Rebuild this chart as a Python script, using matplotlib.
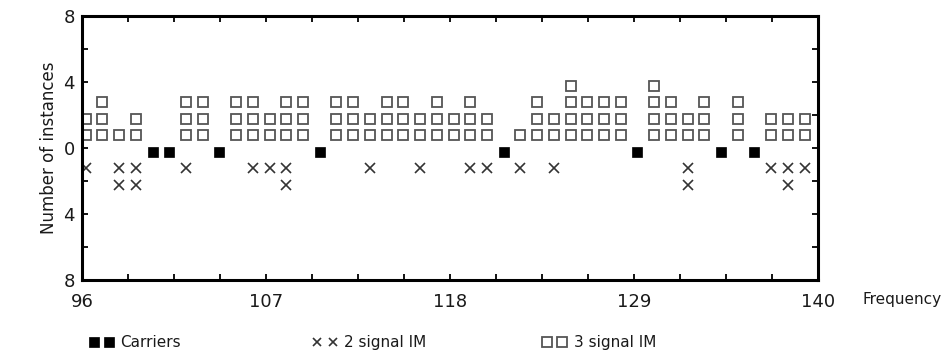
import numpy as np
import matplotlib
matplotlib.use("Agg")
import matplotlib.pyplot as plt

DARK = '#1a1a1a'
SQ_EDGE = '#555555'
X_COLOR = '#333333'

plt.rcParams['font.family'] = ['DejaVu Sans']
plt.rcParams['text.color'] = DARK

# carrier frequencies
carrier_freqs = [100, 101, 104, 110, 121, 129, 134, 136]

# 2 signal IM products: frequency and number of instances
im2_freqs = [96, 98, 99, 102, 106, 107, 108, 113, 116, 119, 120, 122, 124,
             132, 137, 138, 139]
im2_counts = [1, 2, 2, 1, 1, 1, 2, 1, 1, 1, 1, 1, 1, 2, 1, 2, 1]

# 3 signal IM products: frequency and number of instances
im3_freqs = [96, 97, 98, 99, 102, 103, 105, 106, 107, 108, 109, 111, 112,
             113, 114, 115, 116, 117, 118, 119, 120, 122, 123, 124, 125,
             126, 127, 128, 130, 131, 132, 133, 135, 137, 138, 139]
im3_counts = [2, 3, 1, 2, 3, 3, 3, 3, 2, 3, 3, 3, 3,
              2, 3, 3, 2, 3, 2, 3, 2, 1, 3, 2, 4,
              3, 3, 3, 4, 3, 2, 3, 3, 2, 2, 2]

x_major = [96, 107, 118, 129, 140]
y_ticks = [8, 4, 0, -4, -8]
y_ticklabels = ['8', '4', '0', '4', '8']

# the original figure draws marks slightly right of / below the grid
X_SHIFT = 0.22
Y_SHIFT = -0.22

sq_style = dict(marker='s', ms=7.3, mfc='white', mec=SQ_EDGE, mew=1.3, ls='none')
car_style = dict(marker='s', ms=7.5, mfc='black', mec='black', mew=0.5, ls='none')
x_style = dict(marker='x', ms=6.5, mec=X_COLOR, mew=1.2, ls='none')

fig = plt.figure(figsize=(9.48, 3.59), dpi=100)
ax = fig.add_axes([0.0865, 0.22, 0.776, 0.735])

# stack the instances: one mark per instance
sx, sy = [], []
for f, c in zip(im3_freqs, im3_counts):
    for k in range(1, c + 1):
        sx.append(f + X_SHIFT)
        sy.append(k + Y_SHIFT)
xx, xy = [], []
for f, c in zip(im2_freqs, im2_counts):
    for k in range(1, c + 1):
        xx.append(f + X_SHIFT)
        xy.append(-k + Y_SHIFT)

ax.plot(sx, sy, **sq_style)
ax.plot(xx, xy, **x_style)
ax.plot(np.array(carrier_freqs) + X_SHIFT,
        np.zeros(len(carrier_freqs)) + Y_SHIFT, **car_style)

ax.set_xlim(96, 140)
ax.set_ylim(-8, 8)
ax.set_xticks(x_major)
ax.set_xticklabels([str(v) for v in x_major])
ax.set_xticks(np.arange(96, 140.01, 2.75), minor=True)
ax.set_yticks(y_ticks)
ax.set_yticklabels(y_ticklabels)
ax.set_yticks(np.arange(-8, 8.01, 2), minor=True)

for s in ax.spines.values():
    s.set_linewidth(2.2)
    s.set_color('black')
ax.tick_params(which='both', direction='in', top=True, right=True,
               length=4, width=1.3, color='black')
ax.tick_params(axis='x', which='major', labelsize=13, pad=9, labelcolor=DARK)
ax.tick_params(axis='y', which='major', labelsize=13, pad=5, labelcolor=DARK)

ax.set_ylabel('Number of instances', fontsize=12, labelpad=4, color=DARK)
fig.text(0.91, 0.165, 'Frequency', fontsize=11, ha='left', va='center',
         color=DARK)

# legend entries below the plot
entries = [
    (car_style, 'Carriers', 0.094),
    (x_style, '2 signal IM', 0.330),
    (sq_style, '3 signal IM', 0.572),
]
for style, label, xpos in entries:
    h, = ax.plot([], [], **style)
    fig.legend([h], [label], loc='center left', bbox_to_anchor=(xpos, 0.045),
               frameon=False, numpoints=2, handlelength=1.6, markerscale=0.9,
               handletextpad=0.45, fontsize=11, borderpad=0, borderaxespad=0)

fig.savefig('out.png', dpi=100)
